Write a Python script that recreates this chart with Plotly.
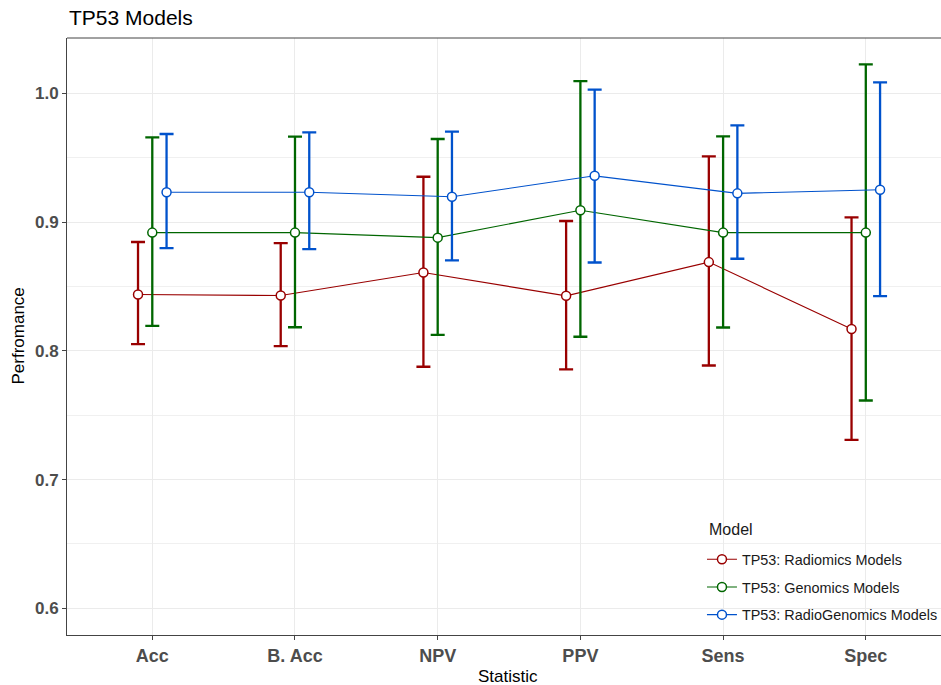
import plotly.graph_objects as go

categories = ["Acc", "B. Acc", "NPV", "PPV", "Sens", "Spec"]
models = ["TP53: Radiomics Models", "TP53: Genomics Models", "TP53: RadioGenomics Models"]
colors = ["#990000", "#006600", "#0052CC"]

radiomics_mean = [0.8437, 0.8429, 0.8608, 0.8427, 0.8689, 0.8169]
radiomics_low = [0.8052, 0.8036, 0.7876, 0.7855, 0.7886, 0.7308]
radiomics_high = [0.8845, 0.8837, 0.9352, 0.9008, 0.9510, 0.9036]

genomics_mean = [0.8918, 0.8918, 0.8879, 0.9091, 0.8918, 0.8918]
genomics_low = [0.8194, 0.8183, 0.8124, 0.8109, 0.8181, 0.7614]
genomics_high = [0.9658, 0.9663, 0.9645, 1.0095, 0.9666, 1.0224]

radiogenomics_mean = [0.9231, 0.9231, 0.9197, 0.9359, 0.9223, 0.9251]
radiogenomics_low = [0.8798, 0.8790, 0.8702, 0.8686, 0.8715, 0.8425]
radiogenomics_high = [0.9684, 0.9697, 0.9702, 1.0028, 0.9751, 1.0085]

series = [
    (radiomics_mean, radiomics_low, radiomics_high),
    (genomics_mean, genomics_low, genomics_high),
    (radiogenomics_mean, radiogenomics_low, radiogenomics_high),
]
dodge = [-0.1, 0.0, 0.1]

FONT = "Liberation Sans, Arial, sans-serif"

fig = go.Figure()
for i, (name, col, (m, lo, hi)) in enumerate(zip(models, colors, series)):
    xs = [k + 1 + dodge[i] for k in range(len(categories))]
    fig.add_trace(go.Scatter(
        x=xs, y=m, name=name, mode="lines+markers",
        legendgroup=name,
        line=dict(color=col, width=1.1),
        marker=dict(size=9, color="white", line=dict(color=col, width=1.5)),
        error_y=dict(type="data", symmetric=False,
                     array=[h - v for h, v in zip(hi, m)],
                     arrayminus=[v - l for l, v in zip(lo, m)],
                     color=col, thickness=2.3, width=7),
    ))

fig.update_layout(
    width=941, height=685,
    margin=dict(l=67, r=0, t=38, b=50, autoexpand=False),
    paper_bgcolor="white", plot_bgcolor="white",
    font=dict(family=FONT, color="#000000"),
    showlegend=True,
    legend=dict(
        x=0.7265, y=0.1535, xanchor="left", yanchor="top",
        bgcolor="rgba(0,0,0,0)", borderwidth=0,
        font=dict(size=14.4, color="#1A1A1A"),
        tracegroupgap=6, traceorder="grouped",
    ),
    xaxis=dict(
        range=[0.4023, 6.527],
        tickmode="array", tickvals=list(range(1, len(categories) + 1)),
        ticktext=["<b>%s</b>" % c for c in categories],
        tickfont=dict(size=18, color="#4D4D4D", family=FONT),
        showgrid=True, gridcolor="#EBEBEB", gridwidth=1,
        zeroline=False,
        showline=True, linecolor="#444444", linewidth=1,
        ticks="outside", ticklen=4, tickcolor="#444444", tickwidth=1,
    ),
    yaxis=dict(
        range=[0.57926, 1.04295],
        tickmode="array", tickvals=[0.6, 0.7, 0.8, 0.9, 1.0],
        ticktext=["<b>0.6</b>", "<b>0.7</b>", "<b>0.8</b>", "<b>0.9</b>", "<b>1.0</b>"],
        tickfont=dict(size=17, color="#4D4D4D", family=FONT),
        showgrid=True, gridcolor="#EBEBEB", gridwidth=1,
        minor=dict(tickmode="array", tickvals=[0.65, 0.75, 0.85, 0.95],
                   showgrid=True, gridcolor="#F0F0F0", gridwidth=0.7, ticks=""),
        zeroline=False,
        showline=True, linecolor="#444444", linewidth=1,
        ticks="outside", ticklen=4, tickcolor="#444444", tickwidth=1,
    ),
    shapes=[
        dict(type="line", xref="paper", yref="paper", x0=0, x1=1, y0=1, y1=1,
             line=dict(color="#444444", width=1)),
        dict(type="rect", xref="paper", yref="paper", x0=0.7205, x1=1.0, y0=0.0, y1=0.2122,
             fillcolor="white", line=dict(width=0), layer="between"),
    ],
    annotations=[
        dict(text="TP53 Models", xref="paper", yref="paper", x=0, y=1,
             xanchor="left", yanchor="bottom", yshift=7, showarrow=False,
             font=dict(size=21, color="#000000")),
        dict(text="Statistic", xref="paper", yref="paper", x=(508 - 67) / 874, y=0,
             xanchor="center", yanchor="middle", yshift=-41, showarrow=False,
             font=dict(size=17, color="#000000")),
        dict(text="Perfromance", xref="paper", yref="paper", x=0, y=0.5,
             xanchor="center", yanchor="middle", xshift=-49, textangle=-90,
             showarrow=False, font=dict(size=17, color="#000000")),
        dict(text="Model", xref="paper", yref="paper", x=(706.7 - 67) / 874,
             y=(635 - 529) / 597, xanchor="left", yanchor="middle", showarrow=False,
             font=dict(size=16, color="#1A1A1A")),
    ],
)

fig.write_html(
    "out.html",
    config={"displayModeBar": False},
    post_script="document.body.style.margin='0';document.body.style.overflow='hidden';",
)
